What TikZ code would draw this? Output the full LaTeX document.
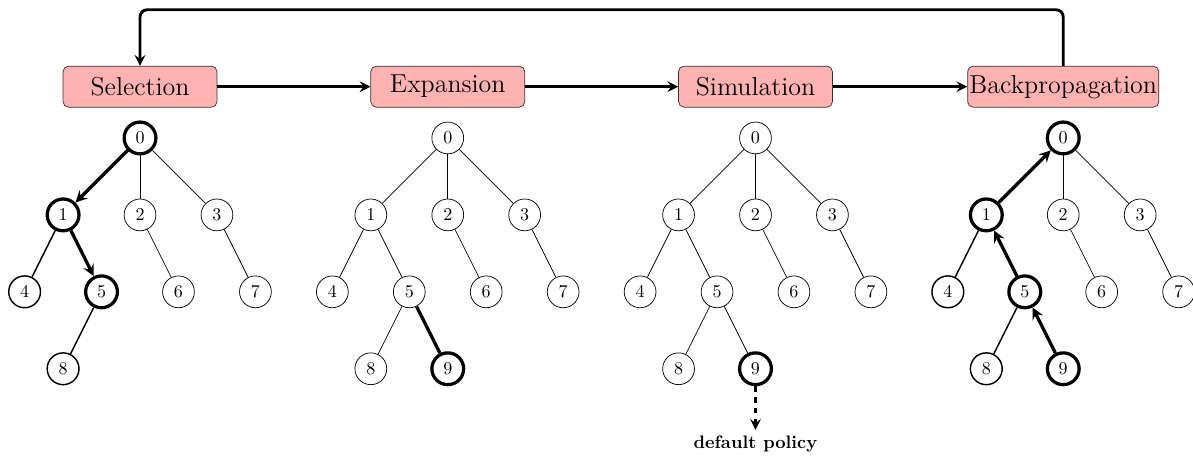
\documentclass[tikz,border=0pt]{standalone}
\usetikzlibrary{positioning}
\tikzset{
	vertex/.style={draw, circle, minimum size=6.2mm, inner sep=0pt},
	stage/.style={draw=black!80, rounded corners=3pt, fill=red!30, minimum width=3cm, minimum height=8mm, inner xsep=1pt, font=\Large},
	flow/.style={->, ultra thick},
	hot/.style={line width=1.8pt},
	warm/.style={thick},
	% Selection
	s-0/.style=hot, s-1/.style=hot, s-5/.style=hot, s-4/.style=warm, s-8/.style=warm,
	s-e1/.style={hot,->}, s-e5/.style={hot,->}, s-e4/.style=warm, s-e8/.style=warm,
	% Expansion
	e-9/.style=hot, e-e9/.style=hot,
	% Simulation
	m-9/.style=hot,
	% Backpropagation
	b-0/.style=hot, b-1/.style=hot, b-5/.style=hot, b-9/.style=hot, b-4/.style=warm, b-8/.style=warm,
	b-e1/.style={hot,<-}, b-e5/.style={hot,<-}, b-e9/.style={hot,<-}, b-e4/.style=warm, b-e8/.style=warm
}
\begin{document}
\begin{tikzpicture}[line join=round, >=stealth]
	\useasboundingbox (-2.73,-6.24) rectangle (20.53,2.69);
	% stages
	\node[stage] (sel) at (0,1) {Selection};
	\node[stage] (exp) at (6,1) {Expansion};
	\node[stage] (sim) at (12,1) {Simulation};
	\node[stage] (bp) at (18,1) {Backpropagation};
	\draw[flow] (sel) -- (exp);
	\draw[flow] (exp) -- (sim);
	\draw[flow] (sim) -- (bp);
	\coordinate (top) at (0,2.5);
	\draw[flow, rounded corners=4pt] (bp.north) |- (top) -- (sel.north);
	% trees
	\foreach \tr/\x in {s/0,e/6,m/12,b/18}{
		\begin{scope}[xshift=\x cm]
			\foreach \n/\p/\q in {0/0/0,1/-1.5/-1.5,2/0/-1.5,3/1.5/-1.5,4/-2.25/-3,5/-0.75/-3,6/0.75/-3,7/2.25/-3,8/-1.5/-4.5}
				\node[vertex, \tr-\n/.try] (\tr\n) at (\p,\q) {\n};
		\end{scope}
		\foreach \pa/\ch in {0/1,0/2,0/3,1/4,1/5,2/6,3/7,5/8}
			\draw[\tr-e\ch/.try] (\tr\pa) -- (\tr\ch);
	}
	\foreach \tr in {e,m,b}{
		\node[vertex, \tr-9/.try] (\tr9) at ([shift={(0.75,-1.5)}]\tr5) {9};
		\draw[\tr-e9/.try] (\tr5) -- (\tr9);
	}
	\node[font=\bfseries, below=0.85cm of m9] (pol) {default policy};
	\draw[flow, dashed] (m9) -- (pol);
\end{tikzpicture}
\end{document}
